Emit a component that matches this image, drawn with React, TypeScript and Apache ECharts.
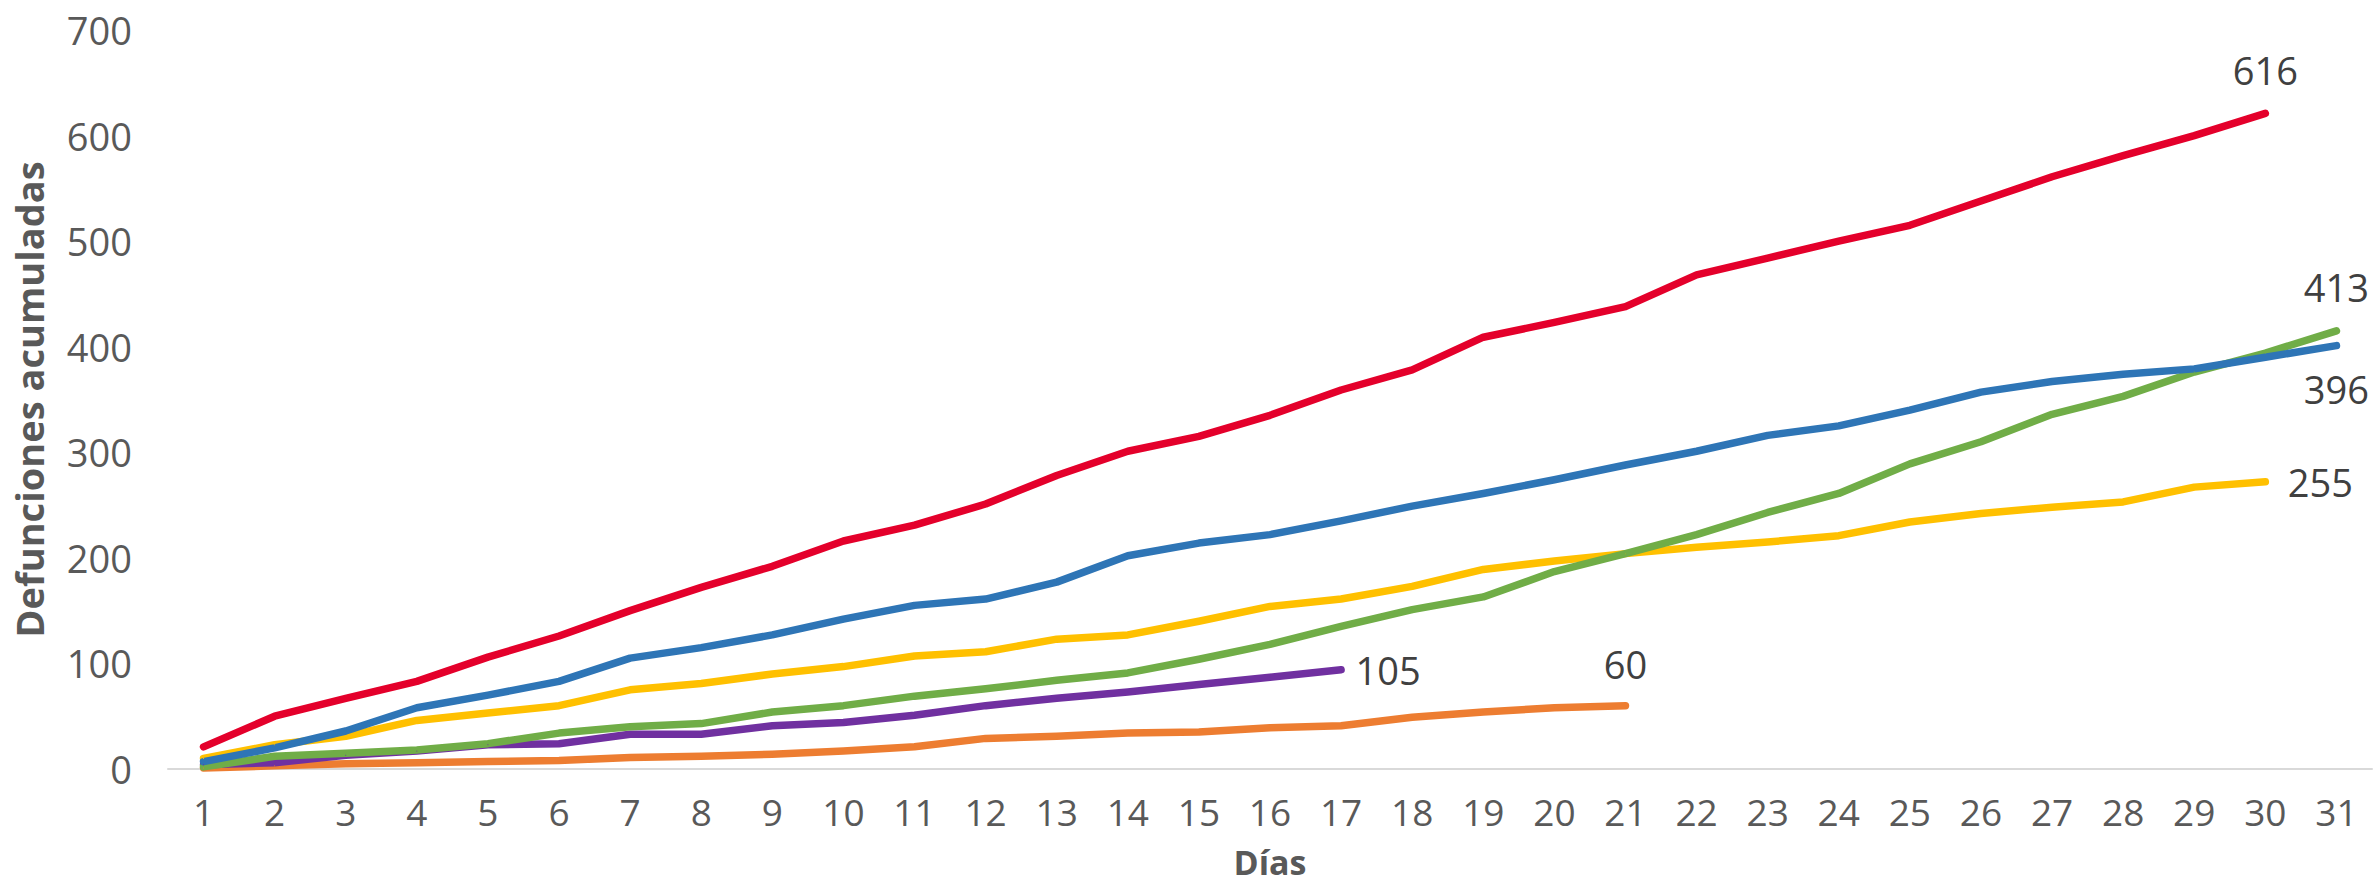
import React, { useEffect, useRef } from "react";
import * as echarts from "echarts";

const days = Array.from({ length: 31 }, (_, i) => String(i + 1));

const redValues = [21, 50, 67, 83, 106, 126, 150, 172, 192, 216, 231, 251, 278, 301, 315, 335, 359, 378, 409, 423, 438, 468, 484, 500, 515, 538, 561, 581, 600, 621];
const blueValues = [7, 20, 36, 58, 70, 83, 105, 115, 127, 142, 155, 161, 177, 202, 214, 222, 235, 249, 261, 274, 288, 301, 316, 325, 340, 357, 367, 374, 379, 390, 401];
const yellowValues = [10, 23, 31, 46, 53, 60, 75, 81, 90, 97, 107, 111, 123, 127, 140, 154, 161, 173, 189, 197, 204, 210, 215, 221, 234, 242, 248, 253, 267, 272];
const greenValues = [2, 12, 15, 18, 24, 34, 40, 43, 54, 60, 69, 76, 84, 91, 104, 118, 135, 151, 163, 187, 204, 222, 243, 261, 289, 310, 336, 353, 376, 394, 415];
const purpleValues = [4, 6, 13, 17, 23, 24, 33, 33, 41, 44, 51, 60, 67, 73, 80, 87, 94];
const orangeValues = [1, 3, 5, 6, 7, 8, 11, 12, 14, 17, 21, 29, 31, 34, 35, 39, 41, 49, 54, 58, 60];

const endLabels = { red: "616", blue: "396", yellow: "255", green: "413", purple: "105", orange: "60" };

const FONT = "'Open Sans', 'Noto Sans', sans-serif";

function withEndLabel(values: number[], text: string, position: string, distance: number) {
  return values.map((v, i) =>
    i === values.length - 1
      ? {
          value: v,
          label: {
            show: true,
            position,
            distance,
            formatter: text,
            fontFamily: FONT,
            fontSize: 38,
            color: "#404040",
          },
        }
      : v
  );
}

function lineSeries(name: string, color: string, data: any[]) {
  return {
    name,
    type: "line",
    data,
    symbol: "circle",
    symbolSize: 1,
    showSymbol: true,
    showAllSymbol: true,
    itemStyle: { color, borderWidth: 0 },
    lineStyle: { color, width: 7.5, cap: "round", join: "round" },
    emphasis: { disabled: true },
    z: 2,
  };
}

export default function App() {
  const ref = useRef<HTMLDivElement>(null);
  useEffect(() => {
    if (!ref.current) return;
    const chart = echarts.init(ref.current, undefined, { renderer: "svg" });
    chart.setOption({
      animation: false,
      backgroundColor: "#ffffff",
      grid: { left: 168, right: 5, top: 30, bottom: 118, containLabel: false, outerBoundsMode: "none" },
      xAxis: {
        type: "category",
        data: days,
        boundaryGap: true,
        name: "Días",
        nameLocation: "middle",
        nameGap: 76,
        nameTextStyle: { fontFamily: FONT, fontSize: 34, lineHeight: 34, fontWeight: "bold", color: "#595959" },
        axisLine: { show: true, lineStyle: { color: "#D9D9D9", width: 2 } },
        axisTick: { show: false },
        axisLabel: { fontFamily: FONT, fontSize: 37, lineHeight: 37, color: "#595959", margin: 24, interval: 0 },
        splitLine: { show: false },
      },
      yAxis: {
        type: "value",
        min: 0,
        max: 700,
        interval: 100,
        name: "Defunciones acumuladas",
        nameLocation: "middle",
        nameGap: 120,
        nameRotate: 90,
        nameTextStyle: { fontFamily: FONT, fontSize: 38, fontWeight: "bold", color: "#595959" },
        axisLine: { show: false },
        axisTick: { show: false },
        axisLabel: { fontFamily: FONT, fontSize: 38, color: "#595959", margin: 36 },
        splitLine: { show: false },
      },
      series: [
        lineSeries("Orange", "#ED7D31", withEndLabel(orangeValues, endLabels.orange, "top", 22)),
        lineSeries("Purple", "#7030A0", withEndLabel(purpleValues, endLabels.purple, "right", 14)),
        lineSeries("Yellow", "#FFC000", withEndLabel(yellowValues, endLabels.yellow, "right", 22)),
        lineSeries("Green", "#70AD47", withEndLabel(greenValues, endLabels.green, "top", 24)),
        lineSeries("Blue", "#2E75B6", withEndLabel(blueValues, endLabels.blue, "bottom", 24)),
        lineSeries("Red", "#E4002B", withEndLabel(redValues, endLabels.red, "top", 24)),
      ],
    });
    return () => chart.dispose();
  }, []);
  return (
    <div
      ref={ref}
      style={{ position: "fixed", left: 0, top: 0, width: 2377, height: 887, background: "#fff" }}
    />
  );
}
